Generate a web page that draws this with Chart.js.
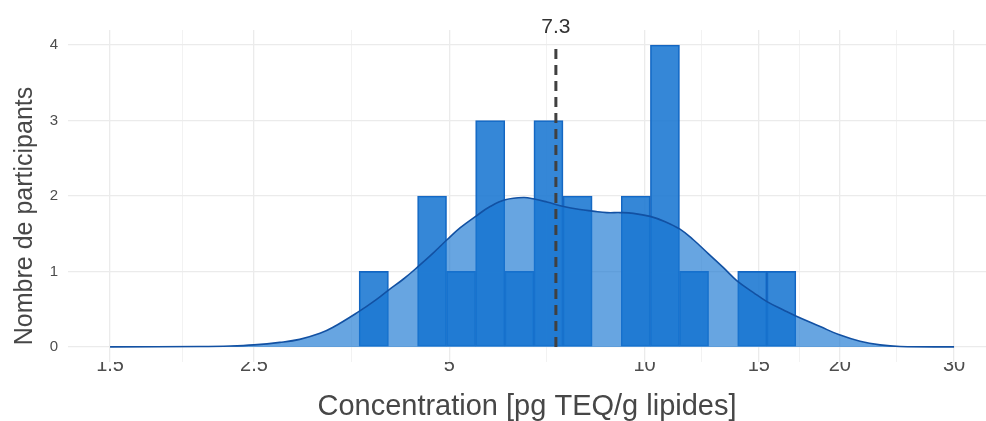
<!DOCTYPE html>
<html lang="fr">
<head>
    <meta charset="UTF-8">
    <title>Concentration</title>
    <script src="https://cdn.jsdelivr.net/npm/chart.js"></script>
    <style>
      body { margin: 0; background: #fff; }
      .container { width: 986px; height: 421px; }
    </style>
</head>
<body>

  <div class="container">
    <canvas id="chart0"></canvas>
  </div>

  <script>

    /* Data. */
    const binEdges = [3.63, 4.03, 4.47, 4.95, 5.49, 6.09, 6.75, 7.49, 8.30, 9.21, 10.21, 11.32, 12.55, 13.92, 15.43, 17.11]
    const binCounts = [1, 0, 2, 1, 3, 1, 3, 2, 0, 2, 4, 1, 0, 1, 1]

    const densityX = [1.5, 2.06, 2.3, 2.5, 2.74, 2.94, 3.16, 3.31, 3.63, 3.82, 4.04, 4.25, 4.47, 4.73, 4.96,
      5.2, 5.49, 5.78, 6.1, 6.51, 6.76, 7.07, 7.5, 7.95, 8.32, 8.75, 9.17, 9.61, 10.2, 10.76, 11.34, 11.89,
      12.56, 13.23, 13.87, 14.72, 15.44, 16.37, 17.11, 18.65, 19.97, 21.49, 23.07, 24.77, 30]
    const densityY = [0, 0.005, 0.012, 0.027, 0.06, 0.1, 0.18, 0.26, 0.47, 0.6, 0.76, 0.9, 1.06, 1.25, 1.42,
      1.58, 1.73, 1.86, 1.95, 1.98, 1.96, 1.92, 1.86, 1.82, 1.8, 1.78, 1.78, 1.77, 1.73, 1.66, 1.56, 1.42,
      1.23, 1.05, 0.88, 0.72, 0.6, 0.49, 0.41, 0.27, 0.16, 0.075, 0.027, 0.006, 0]

    const medianValue = 7.3
    const medianTop = 4

    const xMajorTicks = [1.5, 2.5, 5, 10, 15, 20, 30]
    const xMinorTicks = [1.94, 3.54, 7.07, 12.25, 17.32, 24.49]
    const yTicks = [0, 1, 2, 3, 4]

    const xTitle = "Concentration [pg TEQ/g lipides]"
    const yTitle = "Nombre de participants"

    const fontFamily = '"Liberation Sans", Arial, sans-serif'

    /* Histogram bars, centred in log space. */
    const barData = binCounts.map((c, i) => ({ x: Math.sqrt(binEdges[i] * binEdges[i + 1]), y: c }))
    const densityData = densityX.map((x, i) => ({ x: x, y: densityY[i] }))

    /* Median label and axis titles. */
    const textPlugin = {
      id: 'textPlugin',
      afterDraw(chart) {
        const { ctx, chartArea, scales } = chart
        ctx.save()
        ctx.textAlign = 'center'

        ctx.fillStyle = '#333333'
        ctx.font = '21px ' + fontFamily
        ctx.textBaseline = 'alphabetic'
        ctx.fillText(String(medianValue), scales.x.getPixelForValue(medianValue), scales.y.getPixelForValue(medianTop) - 12)

        ctx.fillStyle = '#474747'
        ctx.font = '29px ' + fontFamily
        ctx.textBaseline = 'middle'
        ctx.fillText(xTitle, (chartArea.left + chartArea.right) / 2, 407)

        ctx.font = '25px ' + fontFamily
        ctx.translate(25, 216)
        ctx.rotate(-Math.PI / 2)
        ctx.fillText(yTitle, 0, 0)
        ctx.restore()
      }
    }

    const ctx0 = document.getElementById("chart0").getContext("2d")
    const myChart0 = new Chart(ctx0, {
      type: 'bar',
      data: {
        datasets: [{
          type: 'line',
          data: [{ x: medianValue, y: 0 }, { x: medianValue, y: medianTop }],
          borderColor: '#404040',
          borderWidth: 3,
          borderDash: [10, 6],
          pointRadius: 0,
          fill: false,
          order: 0
        }, {
          type: 'line',
          data: densityData,
          borderColor: '#1251A3',
          borderWidth: 1.6,
          backgroundColor: 'rgba(25, 118, 210, 0.66)',
          fill: 'origin',
          pointRadius: 0,
          tension: 0.4,
          order: 1
        }, {
          data: barData,
          backgroundColor: 'rgba(25, 118, 210, 0.88)',
          borderColor: '#1565C0',
          borderWidth: 1.2,
          borderSkipped: false,
          barThickness: 'flex',
          barPercentage: 1,
          categoryPercentage: 1,
          order: 2
        }]
      },
      options: {
        responsive: true,
        maintainAspectRatio: false,
        animation: false,
        layout: { padding: { top: 30, right: 0, left: 0, bottom: 0 } },
        scales: {
          x: {
            type: 'logarithmic',
            min: 1.292,
            max: 33.6,
            offset: false,
            afterBuildTicks: s => { s.ticks = xMajorTicks.concat(xMinorTicks).sort((a, b) => a - b).map(v => ({ value: v })) },
            afterFit: s => { s.height = 59 },
            ticks: {
              autoSkip: false,
              maxRotation: 0,
              padding: -9,
              color: '#4D4D4D',
              font: { family: fontFamily, size: 20 },
              showLabelBackdrop: true,
              backdropColor: '#ffffff',
              backdropPadding: { top: 1, bottom: 0, left: 2, right: 2 },
              callback: v => xMajorTicks.includes(v) ? String(v) : ''
            },
            grid: {
              offset: false,
              drawTicks: false,
              color: c => xMajorTicks.includes(c.tick.value) ? '#EBEBEB' : '#F2F2F2',
              lineWidth: c => xMajorTicks.includes(c.tick.value) ? 1.3 : 1
            },
            border: { display: false }
          },
          y: {
            min: -0.2,
            max: 4.2,
            afterBuildTicks: s => { s.ticks = yTicks.map(v => ({ value: v })) },
            afterFit: s => { s.width = 68 },
            ticks: {
              padding: 10,
              color: '#4D4D4D',
              font: { family: fontFamily, size: 15 }
            },
            grid: { drawTicks: false, color: '#EBEBEB', lineWidth: 1.3 },
            border: { display: false }
          }
        },
        plugins: {
          legend: { display: false },
          tooltip: { enabled: false }
        }
      },
      plugins: [textPlugin]
    })

  </script>

</body>
</html>
